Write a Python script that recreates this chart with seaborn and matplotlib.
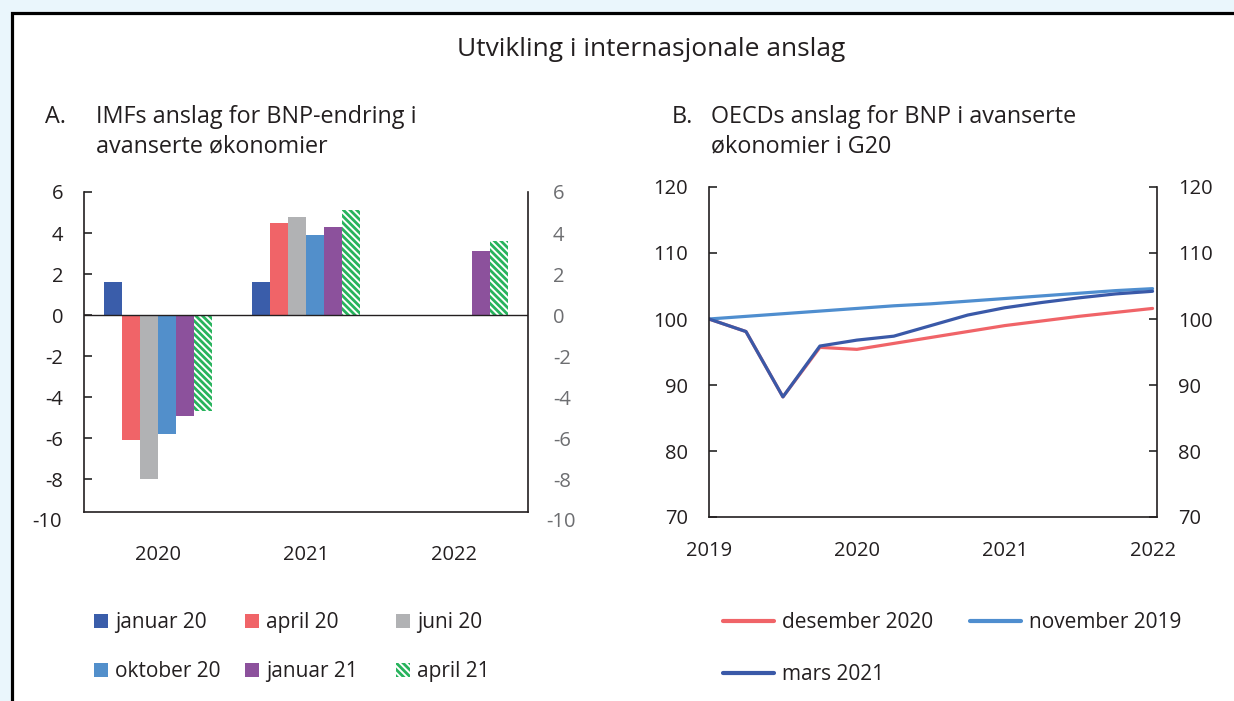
import numpy as np
import pandas as pd
import matplotlib
matplotlib.use("Agg")
import matplotlib.pyplot as plt
import seaborn as sns
from matplotlib.patches import Patch, Rectangle
from matplotlib.lines import Line2D

# Panel A: IMF forecasts, GDP change in advanced economies (per cent)
years = ["2020", "2021", "2022"]
imf_series = ["januar 20", "april 20", "juni 20", "oktober 20", "januar 21", "april 21"]
jan20 = [1.6, 1.6, np.nan]
apr20 = [-6.1, 4.5, np.nan]
jun20 = [-8.0, 4.8, np.nan]
okt20 = [-5.8, 3.9, np.nan]
jan21 = [-4.9, 4.3, 3.1]
apr21 = [-4.7, 5.1, 3.6]

# Panel B: OECD forecasts, GDP index in advanced G20 economies
quarters = [2019.0, 2019.25, 2019.5, 2019.75, 2020.0, 2020.25, 2020.5,
            2020.75, 2021.0, 2021.25, 2021.5, 2021.75, 2022.0]
des2020 = [100.0, 98.1, 88.2, 95.7, 95.4, 96.3, 97.2, 98.1, 99.0, 99.7, 100.4, 101.0, 101.6]
nov2019 = [100.0, 100.4, 100.8, 101.2, 101.6, 102.0, 102.3, 102.7, 103.1, 103.5, 103.9, 104.3, 104.6]
mar2021 = [100.0, 98.1, 88.2, 95.9, 96.8, 97.4, 99.0, 100.6, 101.7, 102.5, 103.2, 103.8, 104.2]

bar_colors = {
    "januar 20": "#3a5daa",
    "april 20": "#f06468",
    "juni 20": "#b1b2b4",
    "oktober 20": "#528fcb",
    "januar 21": "#8c519c",
    "april 21": "#ffffff",
}
hatch_green = "#27b35c"
hatch = "\\\\\\\\\\"
line_colors = {
    "desember 2020": "#f06468",
    "november 2019": "#4f8ecf",
    "mars 2021": "#3a59a8",
}

sns.set_theme(style="white")
plt.rcParams["font.family"] = ["Open Sans", "DejaVu Sans"]
plt.rcParams["hatch.linewidth"] = 2.0
plt.rcParams["hatch.color"] = hatch_green

W, H = 1234, 701
fig = plt.figure(figsize=(W / 100, H / 100), dpi=100)
fig.patch.set_facecolor("#eaf6fc")
fig.patches.append(Rectangle((11.5 / W, -0.05), 1.1, 1 - 12.5 / H + 0.05,
                             transform=fig.transFigure, facecolor="white",
                             edgecolor="black", linewidth=2.3, zorder=-5))

text_dark = "#231f20"

# ---------- Panel A ----------
bars = pd.DataFrame({
    "year": years * len(imf_series),
    "series": [s for s in imf_series for _ in years],
    "value": jan20 + apr20 + jun20 + okt20 + jan21 + apr21,
})
axA = fig.add_axes([84 / W, 1 - 512 / H, (528 - 84) / W, (512 - 192) / H])
sns.barplot(data=bars, x="year", y="value", hue="series", hue_order=imf_series,
            palette=bar_colors, saturation=1, width=0.73, gap=0, errorbar=None,
            linewidth=0, legend=False, ax=axA)
for patch in axA.containers[-1]:
    patch.set_hatch(hatch)
    patch.set_edgecolor(hatch_green)
    patch.set_linewidth(0)
axA.axhline(0, color=text_dark, linewidth=1.0, zorder=5)
axA.set_xlim(-0.5, 2.5)
axA.set_ylim(-9.6, 6)
axA.set_yticks([-8, -6, -4, -2, 0, 2, 4, 6])
axA.set_yticklabels(["-8", "-6", "-4", "-2", "0", "2", "4", "6"])
axA.set_xlabel("")
axA.set_ylabel("")
for side in ["left", "right", "bottom"]:
    axA.spines[side].set_visible(True)
    axA.spines[side].set_color(text_dark)
    axA.spines[side].set_linewidth(1.2)
axA.spines["top"].set_visible(False)
axA.tick_params(axis="y", direction="in", length=6, width=1.2, left=True, right=True,
                labelleft=True, labelright=False, pad=15, labelsize=14.5, labelcolor=text_dark)
axA.tick_params(axis="x", length=0, pad=24, labelsize=14.5, labelcolor=text_dark)
# right side labels in grey
axA2 = axA.twinx()
axA2.set_ylim(axA.get_ylim())
axA2.set_yticks(axA.get_yticks())
axA2.set_yticklabels(["-8", "-6", "-4", "-2", "0", "2", "4", "6"])
axA2.tick_params(axis="y", length=0, pad=18, labelsize=14.5, labelcolor="#6d6e71")
for s in axA2.spines.values():
    s.set_visible(False)
axA.text(-0.05, -10.1, "-10", transform=axA.get_yaxis_transform(), ha="right", va="center",
         fontsize=14.5, color=text_dark, clip_on=False)
axA.text(1.04, -10.1, "-10", transform=axA.get_yaxis_transform(), ha="left", va="center",
         fontsize=14.5, color="#6d6e71", clip_on=False)

# ---------- Panel B ----------
lines = pd.DataFrame({
    "quarter": quarters * 3,
    "series": ["desember 2020"] * len(quarters) + ["november 2019"] * len(quarters)
              + ["mars 2021"] * len(quarters),
    "value": des2020 + nov2019 + mar2021,
})
axB = fig.add_axes([709 / W, 1 - 517 / H, (1157 - 709) / W, (517 - 187) / H])
sns.lineplot(data=lines, x="quarter", y="value", hue="series",
             hue_order=["desember 2020", "november 2019", "mars 2021"],
             palette=line_colors, linewidth=2.3, legend=False, ax=axB)
axB.set_xlim(2019, 2022.03)
axB.set_ylim(70, 120)
axB.set_xticks([2019, 2020, 2021, 2022])
axB.set_xticklabels(["2019", "2020", "2021", "2022"])
axB.set_yticks([70, 80, 90, 100, 110, 120])
axB.set_xlabel("")
axB.set_ylabel("")
for side in ["left", "right", "bottom"]:
    axB.spines[side].set_visible(True)
    axB.spines[side].set_color(text_dark)
    axB.spines[side].set_linewidth(1.2)
axB.spines["top"].set_visible(False)
axB.tick_params(axis="y", direction="in", length=6, width=1.2, left=True, right=True,
                labelleft=True, labelright=True, pad=15, labelsize=14.5, labelcolor=text_dark)
axB.tick_params(axis="x", length=0, pad=17, labelsize=14.5, labelcolor=text_dark)

# ---------- titles ----------
fig.text(651 / W, 1 - 50 / H, "Utvikling i internasjonale anslag", ha="center", va="center",
         fontsize=19, color=text_dark)
fig.text(45 / W, 1 - 117 / H, "A.", ha="left", va="center", fontsize=16.8, color=text_dark)
fig.text(96 / W, 1 - 117 / H, "IMFs anslag for BNP-endring i", ha="left", va="center",
         fontsize=16.8, color=text_dark)
fig.text(96 / W, 1 - 146 / H, "avanserte økonomier", ha="left", va="center",
         fontsize=16.8, color=text_dark)
fig.text(672 / W, 1 - 117 / H, "B.", ha="left", va="center", fontsize=16.8, color=text_dark)
fig.text(711 / W, 1 - 117 / H, "OECDs anslag for BNP i avanserte", ha="left", va="center",
         fontsize=16.8, color=text_dark)
fig.text(711 / W, 1 - 146 / H, "økonomier i G20", ha="left", va="center",
         fontsize=16.8, color=text_dark)

# ---------- legends ----------
def bar_handle(name):
    if name == "april 21":
        return Patch(facecolor="white", edgecolor=hatch_green, hatch=hatch, linewidth=0)
    return Patch(facecolor=bar_colors[name], linewidth=0)

legend_cols_a = [(94, ["januar 20", "oktober 20"]),
                 (245, ["april 20", "januar 21"]),
                 (396, ["juni 20", "april 21"])]
for x0, names in legend_cols_a:
    leg = fig.legend(handles=[bar_handle(n) for n in names], labels=names,
                     loc="upper left", bbox_to_anchor=(x0 / W, 1 - 612 / H),
                     frameon=False, borderpad=0, borderaxespad=0, fontsize=15,
                     handlelength=0.65, handleheight=0.65, handletextpad=0.35,
                     labelspacing=1.35, labelcolor=text_dark)

legend_cols_b = [(723, ["desember 2020", "mars 2021"]),
                 (970, ["november 2019"])]
for x0, names in legend_cols_b:
    hs = [Line2D([0], [0], color=line_colors[n], linewidth=3) for n in names]
    fig.legend(handles=hs, labels=names, loc="upper left",
               bbox_to_anchor=(x0 / W, 1 - 612 / H), frameon=False, borderpad=0,
               borderaxespad=0, fontsize=15, handlelength=2.45, handletextpad=0.4,
               labelspacing=1.5, labelcolor=text_dark)

fig.savefig("out.png", dpi=100, facecolor=fig.get_facecolor())
